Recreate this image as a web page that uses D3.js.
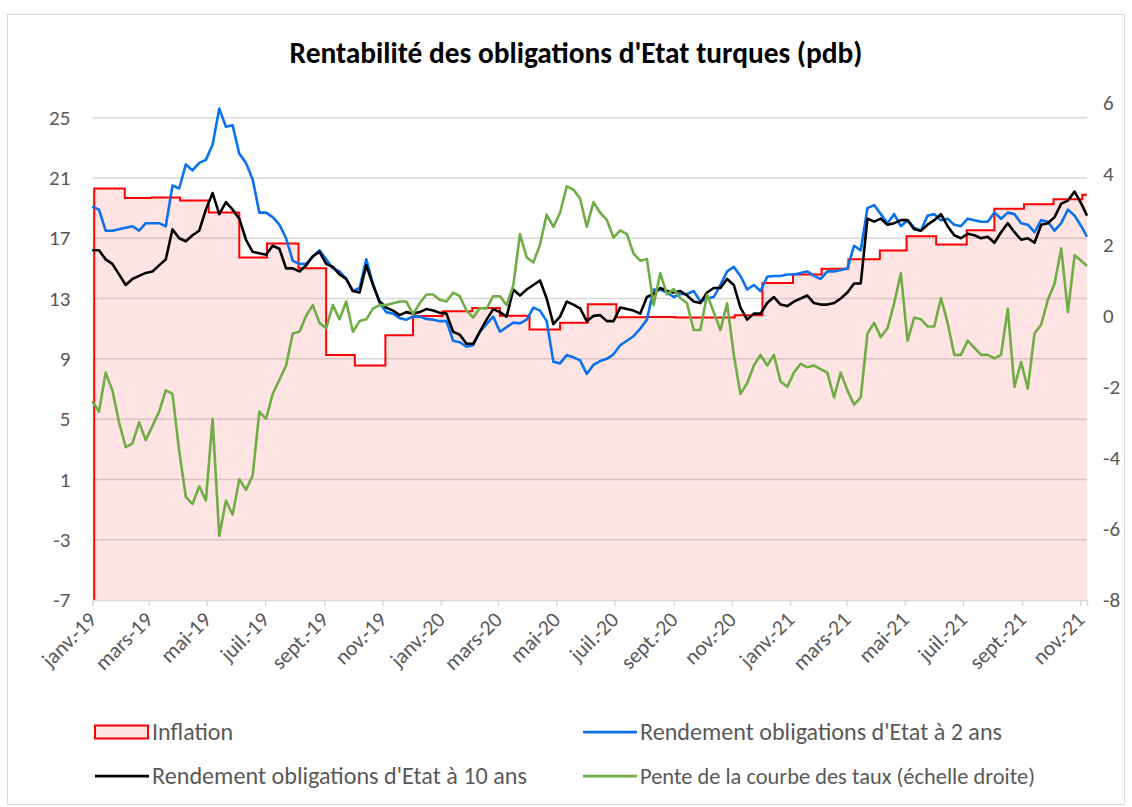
<!DOCTYPE html>
<html><head><meta charset="utf-8">
<script src="https://cdn.jsdelivr.net/npm/d3@7"></script>
<style>
body{margin:0;background:#fff}
svg{display:block}
text{font-family: Carlito, Calibri, Lato, sans-serif}
</style>
</head><body>
<svg id="chart" width="1132" height="807"></svg>
<script>
// ---------------- DATA ----------------
const title = "Rentabilité des obligations d'Etat turques (pdb)";
const weeklyStart = "2019-01-01";   // weekly observations from this date
const weeklyCount = 149;
const lastDate = "2021-11-08";      // final observation

// 2-year government bond yield (%), weekly
const yield2y = [
 19.1,18.9,17.5,17.5,17.6,17.7,17.8,17.5,18.0,18.0,
 18.0,17.8,20.5,20.3,21.9,21.5,22.0,22.2,23.2,25.6,
 24.4,24.5,22.6,22.0,20.9,18.7,18.7,18.4,17.9,17.0,
 15.5,15.3,15.3,15.8,16.2,15.6,15.0,14.8,14.3,13.5,
 13.7,15.6,14.0,12.7,12.1,12.0,11.7,11.6,11.8,11.8,
 11.65,11.6,11.5,11.5,10.2,10.1,9.8,9.9,10.8,11.3,
 11.8,10.8,11.1,11.4,11.35,11.6,12.4,12.2,11.5,8.8,
 8.7,9.25,9.1,8.9,8.0,8.6,8.85,9.0,9.3,9.9,
 10.2,10.5,11.0,11.6,13.6,13.6,13.4,13.1,13.3,13.3,
 13.5,12.8,13.0,13.1,13.9,14.8,15.1,14.5,13.6,13.9,
 13.5,14.45,14.5,14.5,14.6,14.6,14.7,14.8,14.5,14.3,
 14.8,14.8,14.9,15.0,16.5,16.2,19.0,19.2,18.6,18.0,
 18.6,17.8,18.2,17.7,17.5,18.5,18.6,18.2,18.3,17.9,
 17.8,18.3,18.2,18.1,18.1,18.7,18.3,18.7,18.6,18.0,
 17.9,17.4,18.2,18.1,17.5,18.0,18.9,18.5,17.8,
 17.1
];
// 10-year government bond yield (%), weekly
const yield10y = [
 16.2,16.2,15.6,15.3,14.6,13.9,14.3,14.5,14.7,14.8,
 15.2,15.6,17.6,17.0,16.8,17.2,17.5,18.9,20.0,18.6,
 19.4,18.9,18.3,16.9,16.1,16.0,15.9,16.5,16.3,15.0,
 15.0,14.8,15.2,15.8,16.1,15.3,15.1,14.6,14.3,13.5,
 13.4,15.2,13.9,12.8,12.4,12.2,11.9,12.1,12.0,12.1,
 12.3,12.2,12.05,12.0,10.8,10.6,10.0,10.0,10.8,11.6,
 12.3,12.1,11.8,13.6,13.2,13.6,13.9,14.2,13.0,11.3,
 11.8,12.8,12.6,12.35,11.5,11.85,11.9,11.5,11.5,12.4,
 12.3,12.2,12.0,13.1,13.3,13.7,13.5,13.4,13.5,13.2,
 12.8,12.7,13.4,13.7,13.7,14.3,13.9,12.4,11.6,12.0,
 12.0,12.7,13.1,12.6,12.5,12.8,13.0,13.2,12.7,12.6,
 12.6,12.7,13.0,13.4,14.0,14.0,18.3,18.1,18.3,17.9,
 18.0,18.2,18.2,17.6,17.5,17.9,18.2,18.6,17.8,17.2,
 17.0,17.3,17.2,17.0,17.1,16.7,17.4,18.0,17.4,16.9,
 17.0,16.7,17.9,18.0,18.4,19.3,19.5,20.1,19.3,
 18.5
];
// Yield-curve slope (pp, right axis), weekly
const slope = [
 -2.4,-2.7,-1.6,-2.1,-3.0,-3.7,-3.6,-3.0,-3.5,-3.1,
 -2.7,-2.1,-2.2,-3.8,-5.1,-5.3,-4.8,-5.2,-2.9,-6.2,
 -5.2,-5.6,-4.6,-4.9,-4.5,-2.7,-2.9,-2.2,-1.8,-1.4,
 -0.5,-0.45,0.0,0.3,-0.2,-0.35,0.3,-0.1,0.4,-0.45,
 -0.15,-0.1,0.2,0.3,0.3,0.35,0.4,0.4,0.05,0.35,
 0.6,0.6,0.45,0.4,0.65,0.55,0.15,-0.05,0.22,0.2,
 0.55,0.55,0.3,0.85,2.3,1.65,1.5,2.0,2.85,2.5,
 2.9,3.64,3.55,3.3,2.5,3.2,2.9,2.7,2.2,2.4,
 2.3,1.75,1.55,1.6,0.3,1.2,0.6,0.75,0.5,0.35,
 -0.4,-0.4,0.6,0.1,-0.4,0.35,-1.1,-2.2,-1.9,-1.4,
 -1.1,-1.4,-1.1,-1.85,-2.0,-1.6,-1.35,-1.45,-1.4,-1.5,
 -1.6,-2.3,-1.6,-2.1,-2.5,-2.3,-0.5,-0.2,-0.6,-0.35,
 0.35,1.2,-0.7,-0.05,-0.1,-0.3,-0.3,0.5,-0.2,-1.1,
 -1.1,-0.7,-0.9,-1.1,-1.1,-1.2,-1.1,0.2,-2.0,-1.3,
 -2.05,-0.5,-0.25,0.45,0.9,1.9,0.1,1.7,1.55,
 1.4
];
// Inflation (%), step changes
const inflationDates = [
 "2019-01-03","2019-02-04","2019-03-04","2019-04-03","2019-05-03","2019-06-04",
 "2019-07-03","2019-08-05","2019-09-03","2019-10-03","2019-11-04","2019-12-03",
 "2020-01-03","2020-02-03","2020-03-03","2020-04-03","2020-05-05","2020-06-03",
 "2020-07-03","2020-08-03","2020-09-03","2020-11-04","2020-12-03",
 "2021-01-04","2021-02-03","2021-03-03","2021-04-05","2021-05-03","2021-06-03",
 "2021-07-05","2021-08-03","2021-09-03","2021-10-04","2021-11-03"
];
const inflationValues = [
 20.30,19.67,19.71,19.50,18.71,15.72,
 16.65,15.01,9.26,8.55,10.56,11.84,
 12.15,12.37,11.86,10.94,11.39,12.62,
 11.76,11.77,11.75,11.89,14.03,
 14.60,14.97,15.61,16.19,17.14,16.59,
 17.53,18.95,19.25,19.58,19.89
];
const xTickDates = ["2019-01-01","2019-03-01","2019-05-01","2019-07-01","2019-09-01","2019-11-01",
 "2020-01-01","2020-03-01","2020-05-01","2020-07-01","2020-09-01","2020-11-01",
 "2021-01-01","2021-03-01","2021-05-01","2021-07-01","2021-09-01","2021-11-01"];
const xTickLabels = ["janv.-19","mars-19","mai-19","juil.-19","sept.-19","nov.-19",
 "janv.-20","mars-20","mai-20","juil.-20","sept.-20","nov.-20",
 "janv.-21","mars-21","mai-21","juil.-21","sept.-21","nov.-21"];
const leftTicks = [-7,-3,1,5,9,13,17,21,25];
const rightTicks = [-8,-6,-4,-2,0,2,4,6];
const seriesNames = ["Inflation","Rendement obligations d'Etat à 2 ans",
 "Rendement obligations d'Etat à 10 ans","Pente de la courbe des taux (échelle droite)"];

// ---------------- CHART ----------------
const parse = d3.timeParse("%Y-%m-%d");
const dates = d3.range(weeklyCount).map(k => d3.timeDay.offset(parse(weeklyStart), 7*k)).concat([parse(lastDate)]);
const svg = d3.select("#chart");
const W = 1132, H = 807;
const plot = {left: 92.3, right: 1087, top: 102.6, bottom: 600};
const axisColor = "#595959", gridColor = "#d9d9d9";
const COL = {red:"#ff0000", blue:"#0a72ee", black:"#000000", green:"#70ad47", fill:"rgba(255,0,0,0.105)"};

svg.append("rect").attr("width",W).attr("height",H).attr("fill","#fff");
svg.append("rect").attr("x",7.5).attr("y",14.5).attr("width",1117).attr("height",790)
  .attr("fill","none").attr("stroke","#d9d9d9").attr("stroke-width",1);

const x = d3.scaleTime().domain([parse(weeklyStart), parse(lastDate)]).range([plot.left, plot.right]);
const yL = d3.scaleLinear().domain([-7, 26]).range([plot.bottom, plot.top]);
const yR = d3.scaleLinear().domain([-8, 6]).range([plot.bottom, plot.top]);

// gridlines
svg.append("g").selectAll("line").data(leftTicks.filter(t => t > -7)).join("line")
  .attr("x1", plot.left).attr("x2", plot.right)
  .attr("y1", d => yL(d)).attr("y2", d => yL(d))
  .attr("stroke", gridColor).attr("stroke-width", 1.5);

// inflation area
const infl = inflationDates.map((d,i) => ({date: parse(d), v: inflationValues[i]}));
infl.push({date: parse(lastDate), v: inflationValues[inflationValues.length-1]});
svg.append("path").datum(infl)
  .attr("d", d3.area().curve(d3.curveStepAfter).x(d => x(d.date)).y0(yL(-7)).y1(d => yL(d.v)))
  .attr("fill", COL.fill);
const inflLine = [{date: infl[0].date, v: -7}].concat(infl);
svg.append("path").datum(inflLine)
  .attr("d", d3.line().curve(d3.curveStepAfter).x(d => x(d.date)).y(d => yL(d.v)))
  .attr("fill","none").attr("stroke", COL.red).attr("stroke-width", 2);

// x axis
const xAxis = svg.append("g").attr("transform", `translate(0,${plot.bottom})`)
  .call(d3.axisBottom(x).tickValues(xTickDates.map(parse)).tickSize(6).tickFormat((d,i) => xTickLabels[i]));
xAxis.select(".domain").attr("stroke", gridColor).attr("stroke-width", 1.5);
xAxis.selectAll(".tick line").attr("stroke", gridColor).attr("stroke-width", 1.5);
xAxis.selectAll(".tick text")
  .attr("fill", axisColor).attr("font-size", 21.5)
  .attr("text-anchor","end").attr("dy", null).attr("y", null)
  .attr("transform","translate(5,21) rotate(-45)");

// left axis
const fmt = d => String(d);
const yAxisL = svg.append("g").attr("transform", `translate(${plot.left},0)`)
  .call(d3.axisLeft(yL).tickValues(leftTicks).tickFormat(fmt).tickSize(0).tickPadding(22));
yAxisL.select(".domain").remove();
yAxisL.selectAll(".tick text").attr("fill", axisColor).attr("font-size", 21);

// right axis
const yAxisR = svg.append("g").attr("transform", `translate(${plot.right},0)`)
  .call(d3.axisRight(yR).tickValues(rightTicks).tickFormat(fmt).tickSize(0).tickPadding(16));
yAxisR.select(".domain").remove();
yAxisR.selectAll(".tick text").attr("fill", axisColor).attr("font-size", 21);

// series lines
const mk = arr => arr.map((v,i) => ({date: dates[i], v}));
const lineL = d3.line().x(d => x(d.date)).y(d => yL(d.v));
const lineR = d3.line().x(d => x(d.date)).y(d => yR(d.v));
svg.append("path").datum(mk(yield2y)).attr("d", lineL)
  .attr("fill","none").attr("stroke", COL.blue).attr("stroke-width", 2.6).attr("stroke-linejoin","round");
svg.append("path").datum(mk(yield10y)).attr("d", lineL)
  .attr("fill","none").attr("stroke", COL.black).attr("stroke-width", 2.6).attr("stroke-linejoin","round");
svg.append("path").datum(mk(slope)).attr("d", lineR)
  .attr("fill","none").attr("stroke", COL.green).attr("stroke-width", 2.6).attr("stroke-linejoin","round");

// fit text to a target width
function fitText(sel, target) {
  const n = sel.node();
  const base = parseFloat(sel.attr("font-size"));
  const w = n.getComputedTextLength();
  if (w > 0) sel.attr("font-size", (base * target / w).toFixed(2));
}

// title
const t = svg.append("text").attr("x", 576).attr("y", 63).attr("text-anchor","middle")
  .attr("font-weight","bold").attr("font-size", 23).attr("fill","#000").text(title);
fitText(t, 573);

// legend
const legend = [
  {name: seriesNames[0], type:"area", color: COL.red, x: 95, y: 732, w: 81},
  {name: seriesNames[1], type:"line", color: COL.blue, x: 583, y: 732, w: 362},
  {name: seriesNames[2], type:"line", color: COL.black, x: 95, y: 776, w: 375},
  {name: seriesNames[3], type:"line", color: COL.green, x: 583, y: 776, w: 395}
];
const lg = svg.append("g");
legend.forEach(d => {
  if (d.type === "area") {
    lg.append("rect").attr("x", d.x).attr("y", d.y - 6.5).attr("width", 53).attr("height", 13)
      .attr("fill", COL.fill).attr("stroke", d.color).attr("stroke-width", 2);
  } else {
    lg.append("line").attr("x1", d.x).attr("x2", d.x + 54).attr("y1", d.y).attr("y2", d.y)
      .attr("stroke", d.color).attr("stroke-width", 2.75);
  }
  const tx = lg.append("text").attr("x", d.x + 57).attr("y", d.y).attr("dy","0.35em")
    .attr("font-size", 20).attr("fill", axisColor).text(d.name);
  fitText(tx, d.w);
});
</script>
</body></html>
